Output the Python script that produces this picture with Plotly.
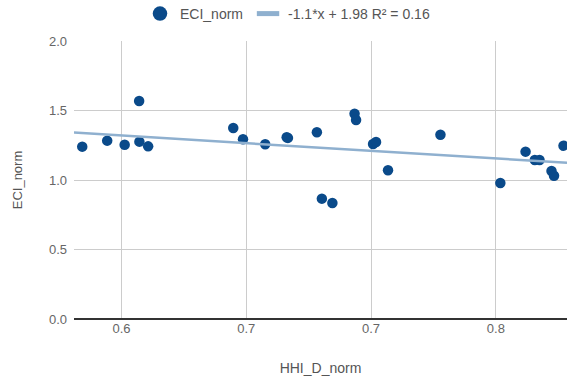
import plotly.graph_objects as go

# data
hhi_d_norm = [0.5843, 0.5943, 0.6013, 0.6071, 0.6072, 0.6107, 0.6448, 0.6487, 0.6576,
              0.6662, 0.6667, 0.6783, 0.6803, 0.6845, 0.6934, 0.6940, 0.7008, 0.7020,
              0.7068, 0.7278, 0.7518, 0.7619, 0.7656, 0.7675, 0.7723, 0.7733, 0.7771]
eci_norm = [1.240, 1.283, 1.254, 1.568, 1.276, 1.242, 1.374, 1.293, 1.257,
            1.307, 1.303, 1.343, 0.866, 0.835, 1.477, 1.432, 1.259, 1.273,
            1.070, 1.326, 0.978, 1.204, 1.144, 1.144, 1.065, 1.031, 1.247]
trend_slope = -1.1
trend_intercept = 1.98
trend_label = "-1.1*x + 1.98 R\u00b2 = 0.16"
x_range = [0.581, 0.7785]
x_tickvals = [0.6, 0.65, 0.7, 0.75]
x_ticktext = ["0.6", "0.7", "0.7", "0.8"]
y_tickvals = [0.0, 0.5, 1.0, 1.5, 2.0]
y_ticktext = ["0.0", "0.5", "1.0", "1.5", "2.0"]

trend_x = x_range
trend_y = [trend_slope * v + trend_intercept for v in trend_x]

font_family = "Liberation Sans, Arial, sans-serif"
dot_color = "#0a4a8a"
trend_color = "#8fb0cf"

fig = go.Figure()
fig.add_trace(go.Scatter(
    x=hhi_d_norm, y=eci_norm, mode="markers", name="ECI_norm", showlegend=False,
    marker=dict(color=dot_color, size=10.5, line=dict(width=0)),
))
fig.add_trace(go.Scatter(
    x=trend_x, y=trend_y, mode="lines", name=trend_label, showlegend=False,
    line=dict(color=trend_color, width=2.5),
))
# legend-only entries (larger dot, short thick bar) as in the reference legend
fig.add_trace(go.Scatter(
    x=[None], y=[None], mode="markers", name="ECI_norm",
    marker=dict(color=dot_color, size=14.5, line=dict(width=0)),
))
fig.add_trace(go.Scatter(
    x=[None], y=[None], mode="markers", name=trend_label,
    marker=dict(symbol="line-ew", size=16, line=dict(color=trend_color, width=5)),
))

fig.update_layout(
    width=567, height=377,
    margin=dict(l=73.5, r=0, t=41, b=58, pad=0),
    paper_bgcolor="white", plot_bgcolor="white",
    font=dict(family=font_family, size=13, color="#555555"),
    showlegend=True,
    legend=dict(orientation="h", xref="container", yref="container",
                x=140 / 567, y=1 - 14 / 377, xanchor="left", yanchor="middle",
                font=dict(size=14, color="#555555"), itemwidth=30,
                bgcolor="rgba(0,0,0,0)"),
    xaxis=dict(range=x_range, tickvals=x_tickvals, ticktext=x_ticktext,
               showgrid=True, gridcolor="#cccccc", gridwidth=1,
               zeroline=False, showline=False, ticks="",
               tickfont=dict(size=13, color="#666666"),
               title=dict(text="HHI_D_norm", font=dict(size=14, color="#555555"), standoff=28)),
    yaxis=dict(range=[0, 2], tickvals=y_tickvals, ticktext=y_ticktext,
               showgrid=True, gridcolor="#cccccc", gridwidth=1,
               zeroline=True, zerolinecolor="#333333", zerolinewidth=1.5,
               showline=False, ticks="", ticklabelstandoff=6,
               tickfont=dict(size=13, color="#666666"),
               title=dict(text="ECI_norm", font=dict(size=13, color="#555555"), standoff=23)),
)

fig.write_html("out.html", config={"displayModeBar": False},
               post_script="document.body.style.margin='0';")
